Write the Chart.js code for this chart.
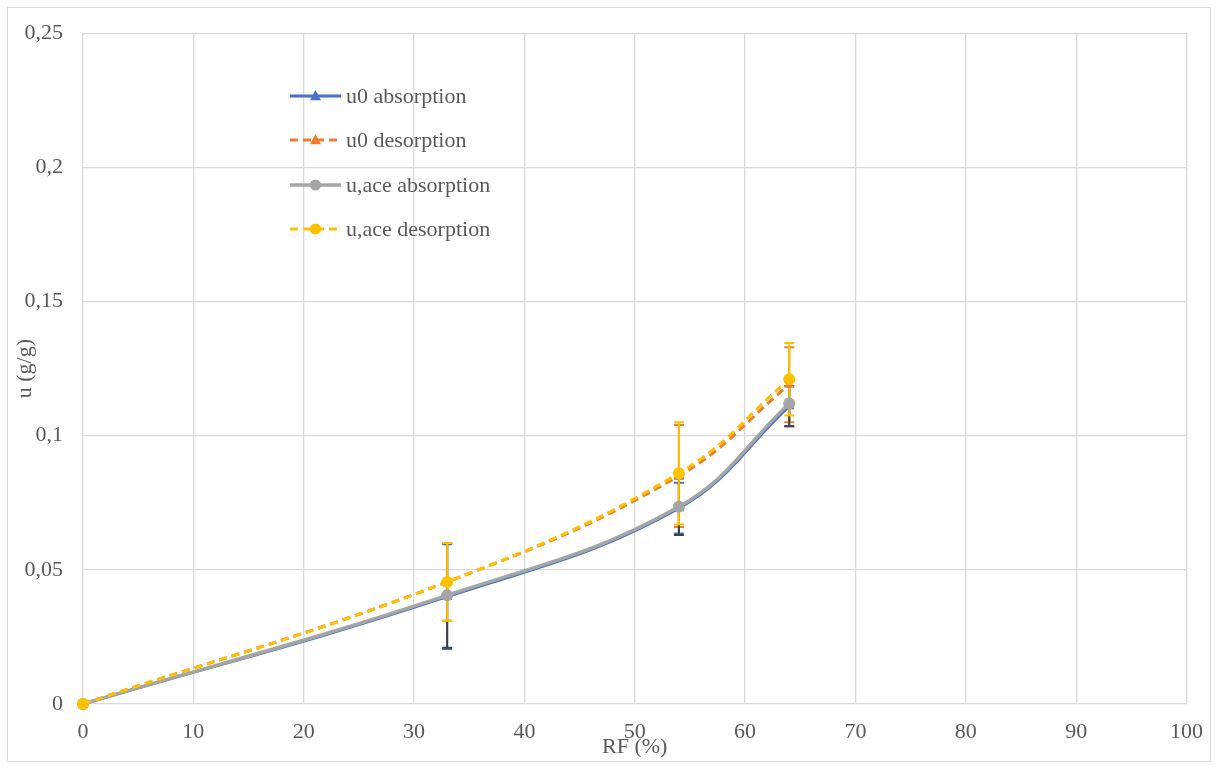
<!DOCTYPE html>
<html>
<head>
<meta charset="utf-8">
<script src="https://cdn.jsdelivr.net/npm/chart.js@4"></script>
<style>
  html, body { margin: 0; padding: 0; background: #fff; }
  #wrap { position: relative; width: 1218px; height: 765px; }
  #frame { position: absolute; left: 7px; top: 7px; width: 1204px; height: 755px; border: 1px solid #d9d9d9; box-sizing: border-box; pointer-events: none; }
</style>
</head>
<body>
<div id="wrap">
  <canvas id="chart" width="1218" height="765"></canvas>
  <div id="frame"></div>
</div>
<script>
/* ================== DATA ================== */
const rf = [0, 33, 54, 64];

const u0Abs   = [0, 0.0400, 0.0730, 0.1110];
const u0Des   = [0, 0.0455, 0.0850, 0.1190];
const uaceAbs = [0, 0.0405, 0.0735, 0.1120];
const uaceDes = [0, 0.0455, 0.0860, 0.1210];

// symmetric error bar half-widths
const u0AbsErr   = [0, 0.0195, 0.0095, 0.0075];
const u0DesErr   = [0, 0.0145, 0.0190, 0.0140];
const uaceAbsErr = [0, 0.0195, 0.0105, 0.0085];
const uaceDesErr = [0, 0.0145, 0.0190, 0.0135];

const seriesNames = ['u0 absorption', 'u0 desorption', 'u,ace absorption', 'u,ace desorption'];
const yTickLabels = ['0', '0,05', '0,1', '0,15', '0,2', '0,25'];

/* ================== STYLE ================== */
const TXT = '#595959';
const GRID = '#d9d9d9';
const FONT = "'Liberation Serif', 'Times New Roman', serif";
const FSIZE = 22;

const styles = [
  { color: '#4472C4', dash: [],     shape: 'triangle', errColor: '#4472C4', order: 3, width: 3 },
  { color: '#ED7D31', dash: [8, 5], shape: 'triangle', errColor: '#ED7D31', order: 2, width: 3 },
  { color: '#A5A5A5', dash: [],     shape: 'circle',   errColor: '#404040', order: 1, width: 3.5 },
  { color: '#FFC000', dash: [8, 5], shape: 'circle',   errColor: '#FFC000', order: 0, width: 3 }
];
const values = [u0Abs, u0Des, uaceAbs, uaceDes];
const errors = [u0AbsErr, u0DesErr, uaceAbsErr, uaceDesErr];

const toPoints = arr => rf.map((x, i) => ({ x, y: arr[i] }));

/* ================== ERROR BARS ================== */
const errorBars = {
  id: 'errorBars',
  beforeDatasetsDraw(chart) {
    const { ctx, scales: { x, y } } = chart;
    ctx.save();
    ctx.lineWidth = 2;
    values.forEach((vals, s) => {
      ctx.strokeStyle = styles[s].errColor;
      vals.forEach((v, i) => {
        const e = errors[s][i];
        if (!e) return;
        const px = x.getPixelForValue(rf[i]);
        const top = y.getPixelForValue(v + e);
        const bot = y.getPixelForValue(v - e);
        ctx.beginPath();
        ctx.moveTo(px, top); ctx.lineTo(px, bot);
        ctx.moveTo(px - 5, top); ctx.lineTo(px + 5, top);
        ctx.moveTo(px - 5, bot); ctx.lineTo(px + 5, bot);
        ctx.stroke();
      });
    });
    ctx.restore();
  }
};

/* ================== INNER LEGEND ================== */
function drawMarker(ctx, shape, cx, cy, r, color) {
  ctx.fillStyle = color;
  ctx.beginPath();
  if (shape === 'circle') {
    ctx.arc(cx, cy, r, 0, Math.PI * 2);
  } else {
    ctx.moveTo(cx, cy - r * 1.1);
    ctx.lineTo(cx + r, cy + r * 0.75);
    ctx.lineTo(cx - r, cy + r * 0.75);
    ctx.closePath();
  }
  ctx.fill();
}

const innerLegend = {
  id: 'innerLegend',
  afterDraw(chart) {
    const ctx = chart.ctx;
    ctx.save();
    ctx.font = FSIZE + 'px ' + FONT;
    ctx.textBaseline = 'middle';
    const rowsY = [96, 140, 185, 229];
    seriesNames.forEach((name, i) => {
      const st = styles[i];
      const yy = rowsY[i];
      ctx.strokeStyle = st.color;
      ctx.lineWidth = st.width;
      ctx.setLineDash(st.dash);
      ctx.beginPath();
      ctx.moveTo(290, yy); ctx.lineTo(341, yy);
      ctx.stroke();
      ctx.setLineDash([]);
      drawMarker(ctx, st.shape, 315.5, yy, 5.5, st.color);
      ctx.fillStyle = TXT;
      ctx.fillText(name, 346, yy + 1);
    });
    ctx.restore();
  }
};

/* ================== CHART ================== */
const ctx = document.getElementById('chart').getContext('2d');
new Chart(ctx, {
  type: 'scatter',
  data: {
    datasets: values.map((vals, i) => ({
      label: seriesNames[i],
      data: toPoints(vals),
      showLine: true,
      borderColor: styles[i].color,
      backgroundColor: styles[i].color,
      borderWidth: styles[i].width,
      borderDash: styles[i].dash,
      tension: 0.4,
      pointStyle: styles[i].shape,
      pointRadius: 6,
      pointBorderWidth: 0,
      clip: false,
      order: styles[i].order
    }))
  },
  options: {
    responsive: false,
    animation: false,
    layout: { padding: { left: 0, top: 33, right: 30, bottom: 0 } },
    plugins: {
      legend: { display: false },
      tooltip: { enabled: false }
    },
    scales: {
      x: {
        type: 'linear',
        min: 0, max: 100,
        afterFit: s => { s.height = 61; },
        ticks: { stepSize: 10, color: TXT, font: { family: FONT, size: FSIZE }, padding: 15 },
        grid: { color: GRID, lineWidth: 1.3, drawTicks: false },
        border: { display: false },
        title: { display: true, text: 'RF (%)', color: TXT, font: { family: FONT, size: FSIZE }, padding: { top: 0, bottom: 5 } }
      },
      y: {
        min: 0, max: 0.25,
        afterFit: s => { s.width = 83; },
        ticks: {
          stepSize: 0.05, color: TXT, font: { family: FONT, size: FSIZE }, padding: 20,
          callback: (v, i) => yTickLabels[i]
        },
        grid: { color: GRID, lineWidth: 1.3, drawTicks: false },
        border: { display: false },
        title: { display: true, text: 'u (g/g)', color: TXT, font: { family: FONT, size: FSIZE }, padding: { top: 12, bottom: 0 } }
      }
    }
  },
  plugins: [errorBars, innerLegend]
});
</script>
</body>
</html>
